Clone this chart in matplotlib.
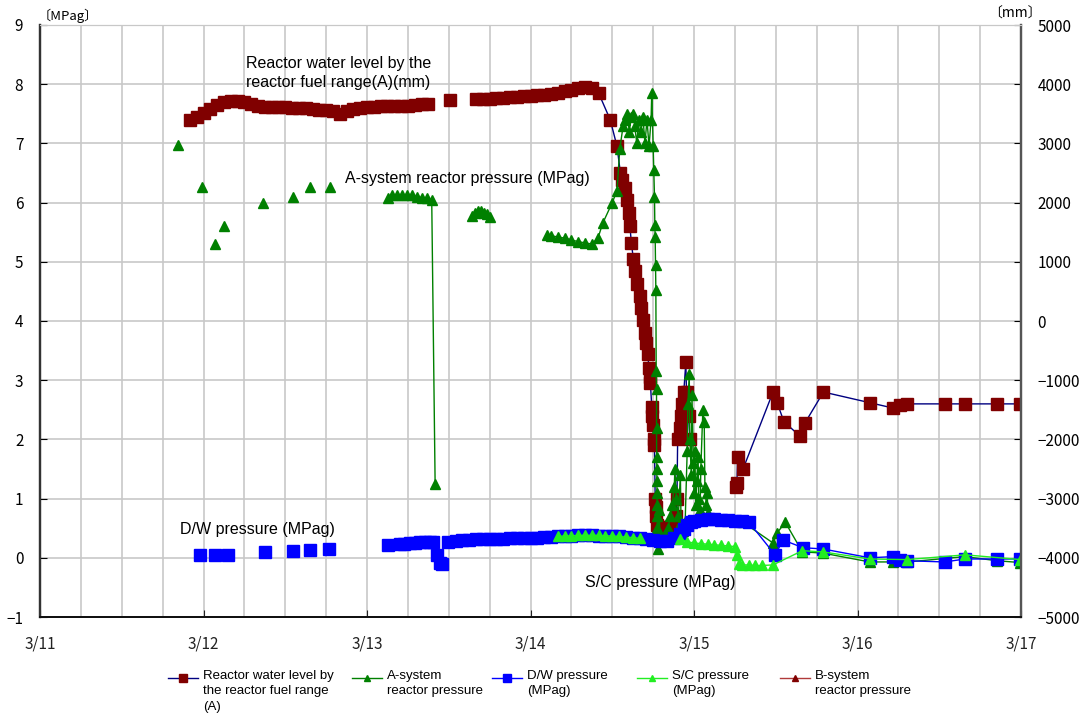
import numpy as np
import matplotlib
matplotlib.use("Agg")
import matplotlib.pyplot as plt
from matplotlib.lines import Line2D

# hours counted from 3/11 0:00
day_labels = ["3/11", "3/12", "3/13", "3/14", "3/15", "3/16", "3/17"]

# reactor water level (fuel range A), mm -- segments separated by gaps
wl_seg1_h = list(range(22, 58))
wl_seg1_mm = [3400, 3450, 3520, 3580, 3650, 3700, 3720, 3720, 3700, 3670, 3640, 3620,
              3620, 3620, 3610, 3600, 3600, 3590, 3580, 3570, 3570, 3540, 3500, 3550,
              3580, 3600, 3610, 3620, 3630, 3630, 3630, 3630, 3640, 3650, 3660, 3670]
wl_iso_h = [60.2, 64.0]
wl_iso_mm = [3730, 3750]
wl_seg2_h = list(range(65, 83)) + [
    83.7, 84.7, 85.2, 85.5, 85.8, 86.1, 86.4, 86.6, 86.8, 87.1, 87.4, 87.7, 88.0, 88.2,
    88.5, 88.8, 89.0, 89.2, 89.4, 89.5, 89.6, 89.8, 89.9, 90.0, 90.1, 90.2, 90.3, 90.35,
    90.4, 90.5, 91.0, 91.6, 92.2, 92.8, 93.3, 93.5, 93.6, 93.9, 94.1, 94.3, 94.5, 94.8,
    94.9, 95.2, 95.4]
wl_seg2_mm = [3750, 3750, 3760, 3770, 3780, 3790, 3800, 3800, 3810, 3820, 3830, 3850,
              3880, 3910, 3940, 3950, 3930, 3850,
              3400, 2950, 2500, 2380, 2250, 2050, 1820, 1600, 1320, 1050, 850, 620, 420,
              220, 20, -200, -380, -550, -800, -950, -1050, -1450, -1600, -1750, -2000,
              -2100, -3000, -3150, -3300, -3450, -3480, -3500, -3480, -3450, -3300, -3000,
              -2000, -1800, -1600, -1400, -1200, -700, -1200, -1600, -2000]
wl_seg3_h = [102.2, 102.3, 102.4, 103.2, 107.6, 108.2, 109.2, 111.6, 112.3, 115.0,
             121.8, 125.2, 126.2, 127.3, 132.8, 135.8, 140.5, 143.9]
wl_seg3_mm = [-2800, -2730, -2300, -2500, -1200, -1380, -1700, -1950, -1720, -1200,
              -1380, -1470, -1420, -1400, -1400, -1400, -1400, -1400]

# A-system reactor pressure, MPag
ap_iso_h = [20.3, 23.8, 25.7, 27.0, 32.7, 37.1, 39.6, 42.5]
ap_iso_v = [6.98, 6.27, 5.30, 5.60, 6.00, 6.10, 6.27, 6.27]
ap_seg1_h = [51.1, 51.7, 52.4, 53.2, 53.9, 54.6, 55.4, 56.1, 56.8, 57.5, 58.0]
ap_seg1_v = [6.08, 6.12, 6.13, 6.13, 6.12, 6.12, 6.10, 6.08, 6.07, 6.05, 1.25]
ap_seg2_h = [63.4, 63.8, 64.3, 64.7, 65.2, 65.6, 66.1]
ap_seg2_v = [5.78, 5.83, 5.85, 5.85, 5.83, 5.80, 5.75]
ap_seg3_h = [74.4, 75, 76, 77, 78, 79, 80, 81, 81.9, 82.6, 84.0, 84.7, 85.1, 85.6, 85.9,
             86.2, 86.5, 86.8, 87.1, 87.3, 87.6, 87.9, 88.2, 88.5, 88.8, 89.1, 89.4, 89.7,
             89.8, 90.0, 90.1, 90.2, 90.25, 90.3, 90.35, 90.4, 90.45, 90.5, 90.5, 90.52,
             90.55, 90.55, 90.58, 90.6, 90.6, 90.62, 90.65,
             90.9, 91.0, 91.3, 91.6, 91.9, 92.2, 92.5, 92.8, 93.1, 93.2, 93.4, 93.7, 94.0,
             94.1, 94.4, 94.7, 95.0, 95.1, 95.3, 95.4, 95.6, 95.7, 95.9, 96.0, 96.1, 96.3,
             96.4, 96.6, 96.7, 96.9, 97.0, 97.3, 97.5, 97.6, 97.8, 97.9, 98.1, 98.4,
             103.2, 107.6, 108.2, 109.4, 111.9, 114.9, 121.8, 125.2, 127.3, 135.8, 140.5,
             143.9]
ap_seg3_v = [5.45, 5.44, 5.42, 5.40, 5.37, 5.34, 5.32, 5.30, 5.40, 5.65, 6.00, 6.20, 6.90,
             7.30, 7.40, 7.50, 7.20, 7.45, 7.50, 7.30, 7.00, 7.40, 7.20, 7.45, 7.00, 7.40,
             6.95, 7.40, 7.85, 6.95, 6.55, 6.10, 5.62, 5.42, 4.95, 4.53, 3.15, 2.85, 2.20,
             1.70, 1.50, 1.30, 1.10, 0.90, 0.70, 0.50, 0.15,
             0.80, 0.40, 0.30, 0.35, 0.40, 0.50, 0.70, 0.90, 1.20, 1.50, 1.00, 0.70, 1.40,
             0.60, 0.45, 0.60, 1.80, 2.60, 3.10, 2.00, 1.40, 2.75, 1.60, 1.10, 1.80, 0.90,
             1.30, 1.70, 1.00, 0.80, 1.50, 2.50, 2.30, 1.20, 0.90, 1.10, 0.75, 0.65,
             0.60, 0.25, 0.42, 0.60, 0.10, 0.08, -0.07, -0.07, -0.07, 0.02, -0.05, -0.08]

# D/W pressure, MPag
dw_iso_h = [23.5, 25.7, 27.6, 33.0, 37.1, 39.6, 42.4, 51.1]
dw_iso_v = [0.05, 0.05, 0.05, 0.10, 0.12, 0.13, 0.15, 0.22]
dw_seg1_h = [52.8, 53.5, 54.3, 55.0, 55.8, 56.5, 57.2, 57.7]
dw_seg1_v = [0.24, 0.24, 0.25, 0.25, 0.26, 0.26, 0.27, 0.26]
dw_seg2_h = [58.3, 58.7, 59.0]
dw_seg2_v = [0.05, -0.08, -0.10]
dw_seg3_h = [59.9]
dw_seg3_v = [0.27]
dw_seg4_h = list(range(61, 95)) + [94.5, 95, 95.5, 96, 97, 98, 99, 100, 101, 102, 103, 104,
                                   107.9, 109.1, 112.0, 114.9, 121.8, 125.2, 126.2, 127.3,
                                   132.8, 135.8, 140.5, 143.9]
dw_seg4_v = [0.29, 0.30, 0.30, 0.31, 0.31, 0.32, 0.32, 0.32, 0.33, 0.33, 0.33, 0.34, 0.34,
             0.35, 0.35, 0.36, 0.37, 0.37, 0.38, 0.38, 0.38, 0.37, 0.37, 0.36, 0.36, 0.35,
             0.34, 0.33, 0.31, 0.30, 0.28, 0.29, 0.33, 0.40,
             0.48, 0.56, 0.61, 0.63, 0.64, 0.65, 0.65, 0.64, 0.64, 0.63, 0.62, 0.61,
             0.05, 0.30, 0.17, 0.15, 0.00, 0.02, -0.04, -0.05, -0.07, -0.02, -0.02, -0.02]

# S/C pressure, MPag
sc_seg1_h = list(range(76, 89))
sc_seg1_v = [0.36, 0.37, 0.37, 0.38, 0.38, 0.38, 0.38, 0.37, 0.37, 0.36, 0.35, 0.34, 0.33]
sc_seg2_h = [94, 95, 96, 97, 98, 99, 100, 101, 102, 102.3, 102.6, 103, 104, 105, 106, 107.6,
             111.9, 114.9, 121.8, 127.3, 135.8, 143.9]
sc_seg2_v = [0.32, 0.27, 0.25, 0.24, 0.23, 0.22, 0.21, 0.20, 0.19, 0.05, -0.10, -0.12,
             -0.12, -0.13, -0.13, -0.12, 0.12, 0.10, -0.02, -0.03, 0.05, -0.03]

legend_labels = ["Reactor water level by\nthe reactor fuel range\n(A)",
                 "A-system\nreactor pressure",
                 "D/W pressure\n(MPag)",
                 "S/C pressure\n(MPag)",
                 "B-system\nreactor pressure"]


def join(*segs):
    # glue segments with NaN so the line breaks between them
    xs, ys = [], []
    for hs, vs in segs:
        if xs:
            xs.append(np.nan)
            ys.append(np.nan)
        xs.extend(hs)
        ys.extend(vs)
    return np.array(xs, float), np.array(ys, float)


def iso(hs, vs):
    return [([h], [v]) for h, v in zip(hs, vs)]


wl_x, wl_y = join((wl_seg1_h, wl_seg1_mm), *iso(wl_iso_h, wl_iso_mm),
                  (wl_seg2_h, wl_seg2_mm), (wl_seg3_h, wl_seg3_mm))
ap_x, ap_y = join(*iso(ap_iso_h, ap_iso_v), (ap_seg1_h, ap_seg1_v),
                  (ap_seg2_h, ap_seg2_v), (ap_seg3_h, ap_seg3_v))
dw_x, dw_y = join(*iso(dw_iso_h, dw_iso_v), (dw_seg1_h, dw_seg1_v), (dw_seg2_h, dw_seg2_v),
                  (dw_seg3_h, dw_seg3_v), (dw_seg4_h, dw_seg4_v))
sc_x, sc_y = join((sc_seg1_h, sc_seg1_v), (sc_seg2_h, sc_seg2_v))

jp = ["Noto Sans CJK JP", "DejaVu Sans"]
ar = ["Liberation Sans", "DejaVu Sans"]

fig = plt.figure(figsize=(10.9, 7.2), dpi=100)
ax2 = fig.add_axes([40 / 1090, 1 - 617 / 720, 981 / 1090, 592 / 720])
ax1 = ax2.twinx()
ax1.set_zorder(ax2.get_zorder() + 1)
ax1.patch.set_visible(False)

# grid on the bottom axes so everything sits above it
ax2.set_xlim(0, 144)
ax2.set_ylim(-5000, 5000)
ax2.set_xticks(np.arange(0, 145, 24))
ax2.set_xticks(np.arange(0, 145, 6), minor=True)
ax2.set_yticks(np.arange(-5000, 5001, 1000))
ax2.grid(True, which="both", color="#c8c8c8", lw=1.2)
ax2.yaxis.tick_right()
ax2.yaxis.set_label_position("right")

styles = [
    dict(color="#000080", marker="s", ms=8, mfc="#800000", mec="#800000"),   # water level
    dict(color="#008000", marker="^", ms=6.5, mfc="#008000", mec="#008000"),  # A-system
    dict(color="#0000ff", marker="s", ms=8, mfc="#0000ff", mec="#0000ff"),   # D/W
    dict(color="#22ee22", marker="^", ms=6.5, mfc="#22ee22", mec="#22ee22"),  # S/C
    dict(color="#b03a3a", marker="^", ms=6.5, mfc="#800000", mec="#800000"),  # B-system
]

ax2.plot(wl_x, wl_y, lw=1, **styles[0])

ax1.yaxis.tick_left()
ax1.set_ylim(-1, 9)
ax1.set_yticks(np.arange(-1, 10, 1))
ax1.plot(ap_x, ap_y, lw=1, **styles[1])
ax1.plot(dw_x, dw_y, lw=1, **styles[2])
ax1.plot(sc_x, sc_y, lw=1, **styles[3])
ax1.plot([], [], lw=1, **styles[4])  # B-system: no data drawn

ax2.set_xticklabels(day_labels, fontfamily=jp, fontsize=11)
for lab in ax2.get_yticklabels() + ax1.get_yticklabels():
    lab.set_fontfamily(jp)
    lab.set_fontsize(11)
ax2.tick_params(axis="x", which="major", direction="in", length=5, pad=13, colors="#222222")
ax2.tick_params(axis="x", which="minor", length=0)
ax2.tick_params(axis="y", direction="in", length=5, pad=12)
ax1.tick_params(axis="y", direction="in", length=5, pad=12)

for a in (ax1, ax2):
    a.spines["top"].set_color("#c8c8c8")
    a.spines["left"].set_color("#333333")
    a.spines["left"].set_linewidth(1.6)
    a.spines["right"].set_color("#555555")
    a.spines["right"].set_linewidth(1.6)
    a.spines["bottom"].set_color("#111111")
    a.spines["bottom"].set_linewidth(1.4)

fig.text(38 / 1090, 1 - 16 / 720, "〔MPag〕", fontfamily=jp, fontsize=9.5, va="center", ha="left")
fig.text(1042 / 1090, 1 - 14 / 720, "〔mm〕", fontfamily=jp, fontsize=10, va="center", ha="right")

ax1.text(30.2, 8.19, "Reactor water level by the\nreactor fuel range(A)(mm)",
         fontfamily=ar, fontsize=11.5, va="center", ha="left", linespacing=1.3)
ax1.text(44.8, 6.4, "A-system reactor pressure (MPag)", fontfamily=ar, fontsize=11.5,
         va="center", ha="left")
ax1.text(20.5, 0.48, "D/W pressure (MPag)", fontfamily=ar, fontsize=11.5,
         va="center", ha="left")
ax1.text(80.0, -0.42, "S/C pressure (MPag)", fontfamily=ar, fontsize=11.5,
         va="center", ha="left")

# legend below the plot, handle level with the first line of each label
leg_handle_px = [168, 352, 492, 637, 780]
leg_y = 1 - 678 / 720
for x0, lab, st in zip(leg_handle_px, legend_labels, styles):
    st = dict(st)
    st["ms"] = st["ms"] * 0.75
    fig.add_artist(Line2D([x0 / 1090, (x0 + 30) / 1090], [leg_y, leg_y], lw=1,
                          transform=fig.transFigure, markevery=[], **st))
    fig.add_artist(Line2D([(x0 + 15) / 1090], [leg_y], lw=0,
                          transform=fig.transFigure, **st))
    fig.text((x0 + 35) / 1090, leg_y + 8 / 720, lab, fontfamily=ar, fontsize=9.5,
             va="top", ha="left", linespacing=1.38)

fig.savefig("out.png", dpi=100)
